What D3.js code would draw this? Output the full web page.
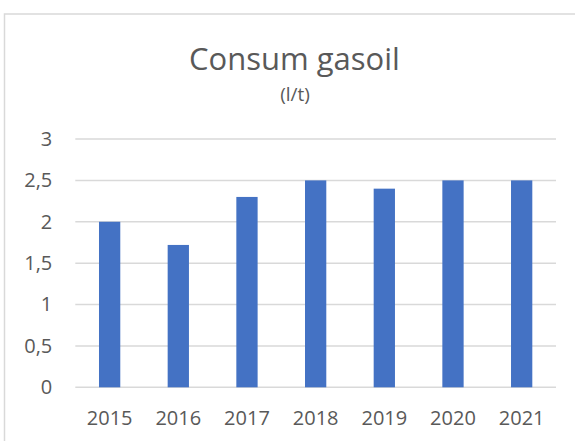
<!DOCTYPE html>
<html>
<head>
<meta charset="utf-8">
<style>
  body { margin: 0; background: #fff; }
  text { font-family: "Open Sans", sans-serif; fill: #595959; }
</style>
</head>
<body>
<svg width="575" height="441"></svg>
<script src="https://cdn.jsdelivr.net/npm/d3@7"></script>
<script>

var years = ["2015", "2016", "2017", "2018", "2019", "2020", "2021"];
var consum = [2.0, 1.72, 2.3, 2.5, 2.4, 2.5, 2.5];
var yTicks = [0, 0.5, 1, 1.5, 2, 2.5, 3];

var svg = d3.select("svg"),
    margin = {top: 139, right: 19, bottom: 53.7, left: 75.3},
    width = +svg.attr("width") - margin.left - margin.right,
    height = +svg.attr("height") - margin.top - margin.bottom;

// chart frame (cropped on the right and bottom like the screenshot)
svg.append("rect")
    .attr("x", 4.5)
    .attr("y", 14)
    .attr("width", 600)
    .attr("height", 460)
    .attr("fill", "none")
    .attr("stroke", "#d9d9d9")
    .attr("stroke-width", 1.5);

svg.append("text")
    .attr("x", 294.5)
    .attr("y", 69.5)
    .attr("text-anchor", "middle")
    .attr("font-size", "31px")
    .text("Consum gasoil");

svg.append("text")
    .attr("x", 295)
    .attr("y", 100.5)
    .attr("text-anchor", "middle")
    .attr("font-size", "19px")
    .text("(l/t)");

var g = svg.append("g").attr("transform", "translate(" + margin.left + "," + margin.top + ")");

var x = d3.scaleBand()
    .domain(years)
    .range([0, width])
    .paddingInner(0.69)
    .paddingOuter(0.345);

var y = d3.scaleLinear().domain([0, 3]).range([height, 0]);

var fmt = function(d) { return String(d).replace(".", ","); };

// grid
g.append("g")
    .selectAll("line")
    .data(yTicks)
    .enter().append("line")
      .attr("x1", 0)
      .attr("x2", width)
      .attr("y1", function(d) { return y(d); })
      .attr("y2", function(d) { return y(d); })
      .attr("stroke", "#d9d9d9")
      .attr("stroke-width", 1.5);

// y axis labels
var yAxis = g.append("g")
    .call(d3.axisLeft(y).tickValues(yTicks).tickFormat(fmt).tickSize(0).tickPadding(23));
yAxis.select(".domain").remove();
yAxis.selectAll("text")
    .attr("font-family", "Open Sans, sans-serif")
    .attr("font-size", "20px")
    .attr("fill", "#595959");

// x axis labels
var xAxis = g.append("g")
    .attr("transform", "translate(0," + height + ")")
    .call(d3.axisBottom(x).tickSize(0).tickPadding(24));
xAxis.select(".domain").remove();
xAxis.selectAll("text")
    .attr("font-family", "Open Sans, sans-serif")
    .attr("font-size", "20px")
    .attr("fill", "#595959");

g.selectAll(".bar")
    .data(consum)
    .enter().append("rect")
      .attr("class", "bar")
      .attr("x", function(d, i) { return x(years[i]); })
      .attr("y", function(d) { return y(d); })
      .attr("width", x.bandwidth())
      .attr("height", function(d) { return height - y(d); })
      .attr("fill", "#4472c4");

</script>
</body>
</html>
